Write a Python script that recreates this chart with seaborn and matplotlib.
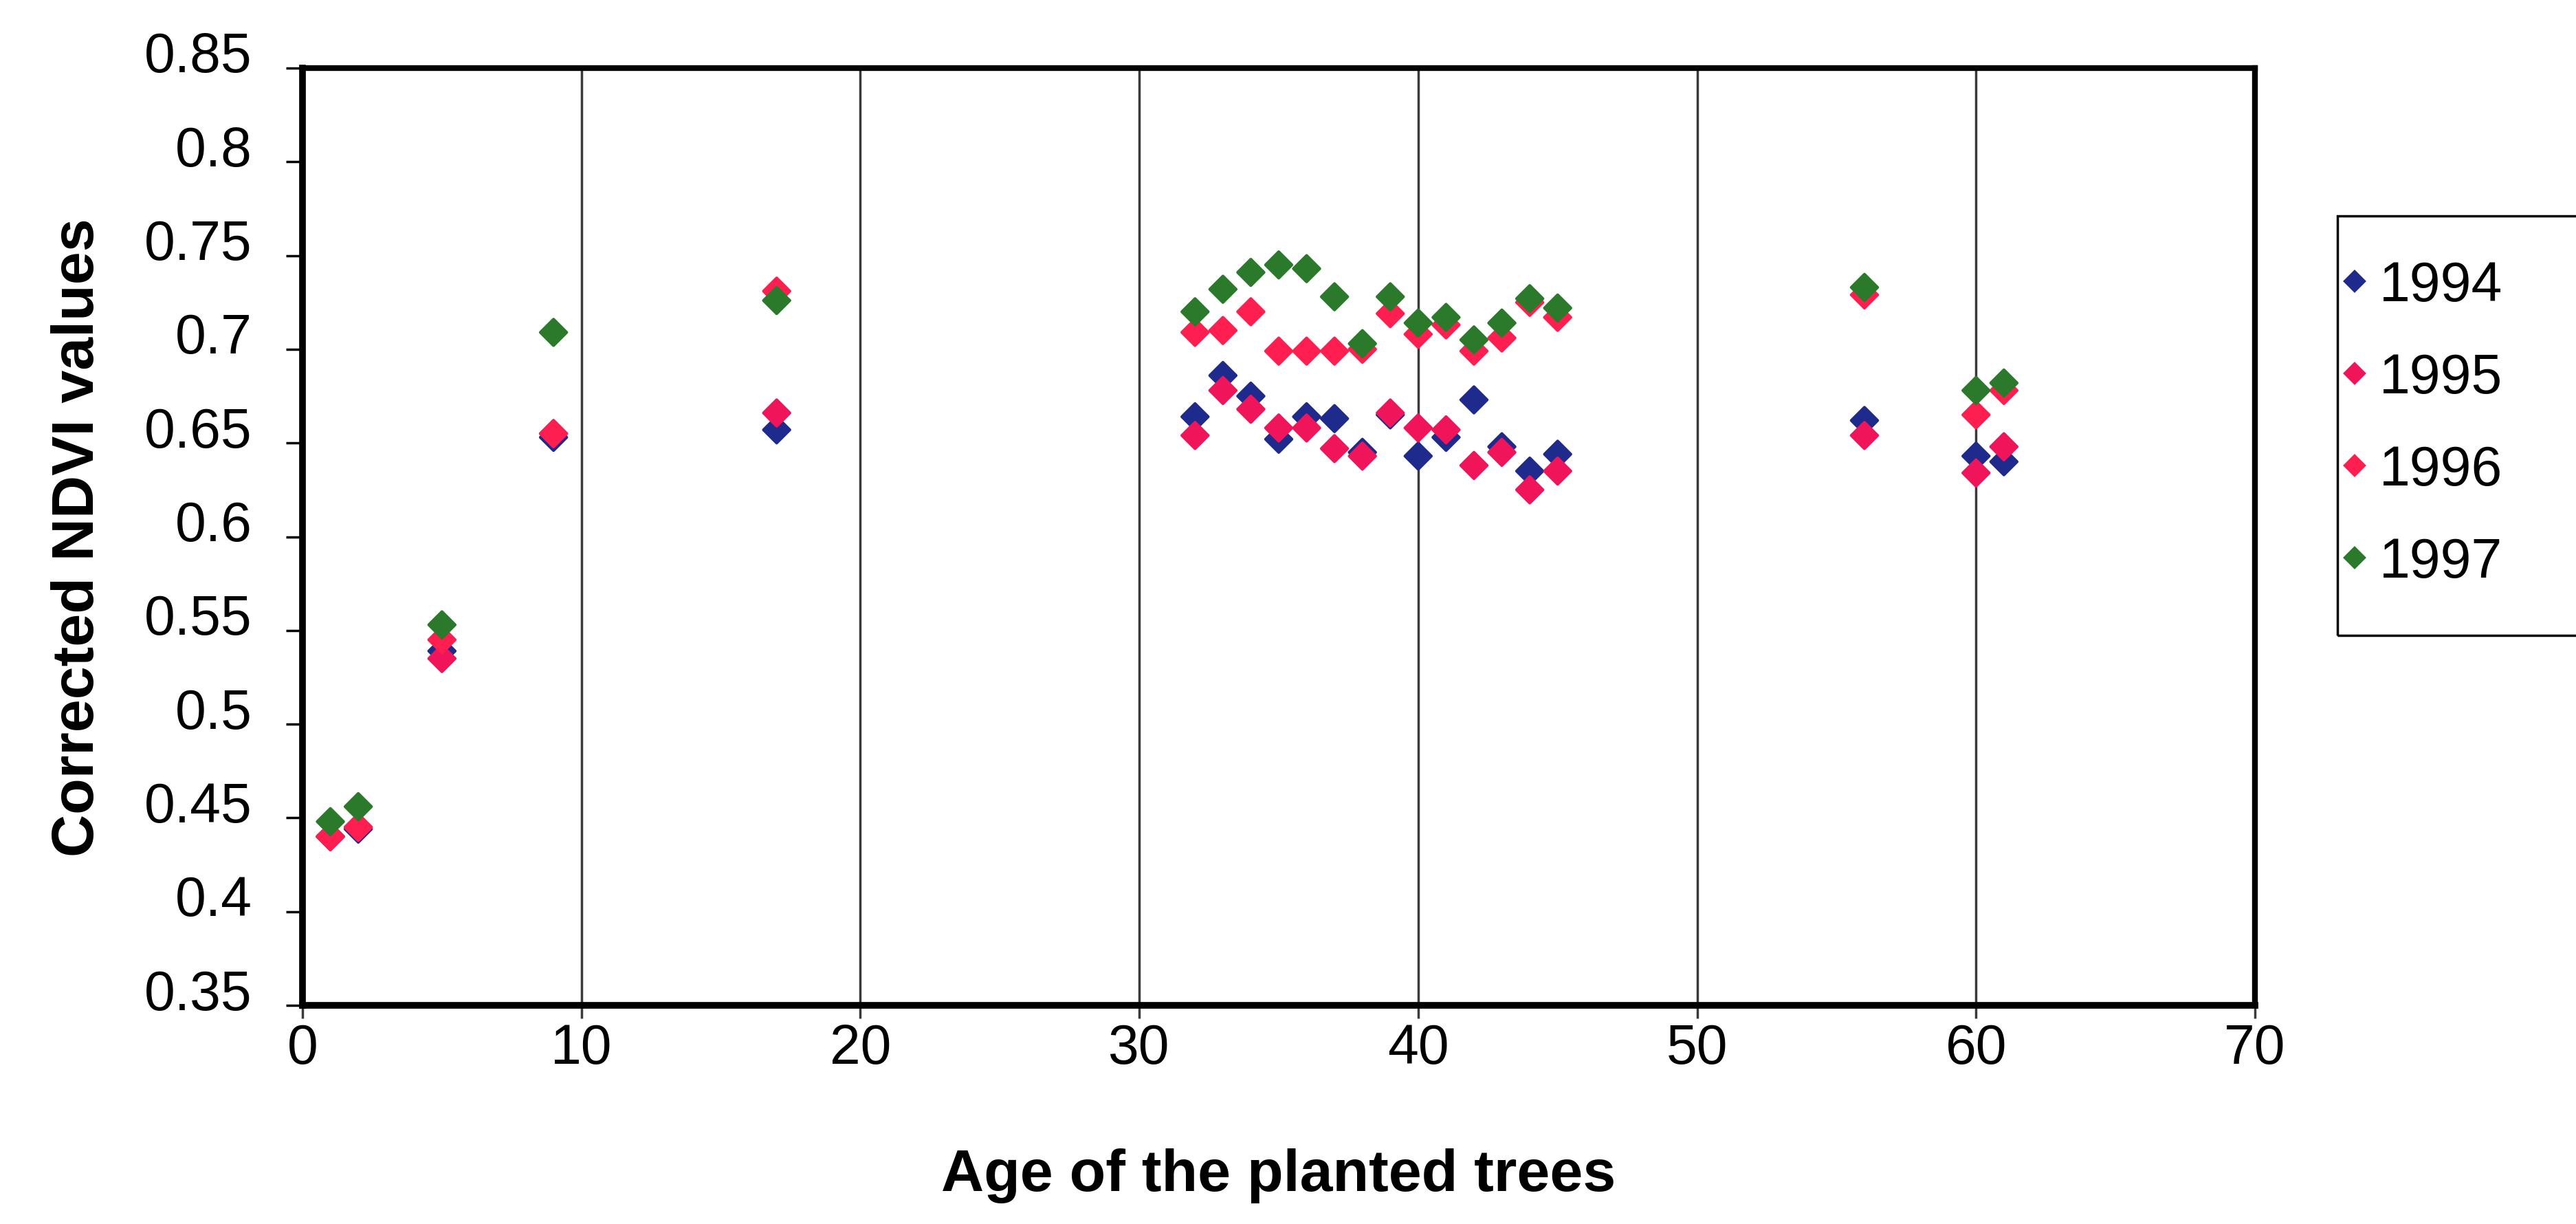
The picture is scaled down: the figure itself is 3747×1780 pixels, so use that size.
import numpy as np
import pandas as pd
import matplotlib
matplotlib.use('Agg')
import matplotlib.pyplot as plt
import matplotlib.transforms as mtransforms
from matplotlib.patches import Rectangle
import seaborn as sns

# Age of the planted trees (years) and corrected NDVI per acquisition year
ages = [1, 2, 5, 9, 17, 32, 33, 34, 35, 36, 37, 38, 39, 40, 41, 42, 43, 44, 45, 56, 60, 61]

ndvi_1994 = [0.440, 0.444, 0.539, 0.653, 0.657, 0.664, 0.686, 0.675, 0.652, 0.664, 0.663,
             0.645, 0.665, 0.643, 0.653, 0.673, 0.648, 0.635, 0.644, 0.662, 0.643, 0.640]
ndvi_1995 = [0.440, 0.445, 0.535, 0.655, 0.666, 0.654, 0.678, 0.668, 0.658, 0.658, 0.647,
             0.643, 0.666, 0.658, 0.657, 0.638, 0.645, 0.625, 0.635, 0.654, 0.634, 0.648]
ndvi_1996 = [0.440, 0.445, 0.545, 0.655, 0.731, 0.709, 0.710, 0.720, 0.699, 0.699, 0.699,
             0.700, 0.719, 0.708, 0.713, 0.699, 0.706, 0.725, 0.717, 0.729, 0.665, 0.678]
ndvi_1997 = [0.448, 0.456, 0.553, 0.709, 0.726, 0.720, 0.732, 0.741, 0.745, 0.743, 0.728,
             0.703, 0.728, 0.714, 0.717, 0.705, 0.714, 0.727, 0.722, 0.733, 0.678, 0.682]

years = ['1994', '1995', '1996', '1997']
colors = ['#1E2B8C', '#F0145A', '#FF1E50', '#2B7A2B']

x_ticks = [0, 10, 20, 30, 40, 50, 60, 70]
y_ticks = [0.35, 0.4, 0.45, 0.5, 0.55, 0.6, 0.65, 0.7, 0.75, 0.8, 0.85]
y_tick_labels = ['0.35', '0.4', '0.45', '0.5', '0.55', '0.6', '0.65', '0.7', '0.75', '0.8', '0.85']

# long format for seaborn
frames = []
for year, vals in zip(years, [ndvi_1994, ndvi_1995, ndvi_1996, ndvi_1997]):
    frames.append(pd.DataFrame({'Age': ages, 'NDVI': vals, 'Year': year}))
df = pd.concat(frames, ignore_index=True)

sns.set_style('white')
plt.rcParams['font.family'] = ['Liberation Sans', 'DejaVu Sans']
plt.rcParams['text.color'] = 'black'
plt.rcParams['axes.labelcolor'] = 'black'
plt.rcParams['xtick.color'] = 'black'
plt.rcParams['ytick.color'] = 'black'

W, H = 3747, 1781
fig = plt.figure(figsize=(W / 100, H / 100), dpi=100)
ax = fig.add_axes([440 / W, 1 - 1463 / H, (3280 - 440) / W, (1463 - 100) / H])

sns.scatterplot(data=df, x='Age', y='NDVI', hue='Year', palette=dict(zip(years, colors)),
                marker='D', s=380, linewidth=3, edgecolor='face', ax=ax)

ax.set_xlim(0, 70)
ax.set_ylim(0.35, 0.85)
ax.set_xticks(x_ticks)
ax.set_xticklabels([str(t) for t in x_ticks])
ax.set_yticks(y_ticks)
ax.set_yticklabels(y_tick_labels)

ax.grid(axis='x', color='#3a3a3a', linewidth=2.5)
ax.grid(axis='y', visible=False)
ax.set_axisbelow(True)

for side in ['left', 'bottom']:
    ax.spines[side].set_linewidth(7)
for side in ['top', 'right']:
    ax.spines[side].set_linewidth(6)
for sp in ax.spines.values():
    sp.set_color('black')

ax.tick_params(axis='x', direction='out', length=14, width=2.5, color='#3a3a3a',
               pad=4, labelsize=58, bottom=True)
ax.tick_params(axis='y', direction='out', length=17, width=2.5, color='black',
               pad=36, labelsize=58, left=True)

ax.set_xlabel('Age of the planted trees', fontsize=62, fontweight='bold', labelpad=76)
ax.set_ylabel('Corrected NDVI values', fontsize=62, fontweight='bold', labelpad=40)

# y tick labels sit a little above their ticks in the original
offset = mtransforms.ScaledTranslation(0, 0.24, fig.dpi_scale_trans)
for lab in ax.get_yticklabels():
    lab.set_transform(lab.get_transform() + offset)

# legend, box drawn separately (it runs off the right edge of the page)
handles, labels = ax.get_legend_handles_labels()
leg = ax.legend(handles, labels, loc='upper left', bbox_to_anchor=(3405 / W, 1 - 379 / H),
                bbox_transform=fig.transFigure, fontsize=58, frameon=False,
                markerscale=0.75, handlelength=0.5, handletextpad=0.19,
                labelspacing=0.72, borderpad=0, borderaxespad=0)
fig.add_artist(Rectangle((3400 / W, 1 - 925 / H), 400 / W, (925 - 315) / H,
                         transform=fig.transFigure, fill=False, edgecolor='black',
                         linewidth=2.5))

fig.savefig('out.png', dpi=100, facecolor='white')
